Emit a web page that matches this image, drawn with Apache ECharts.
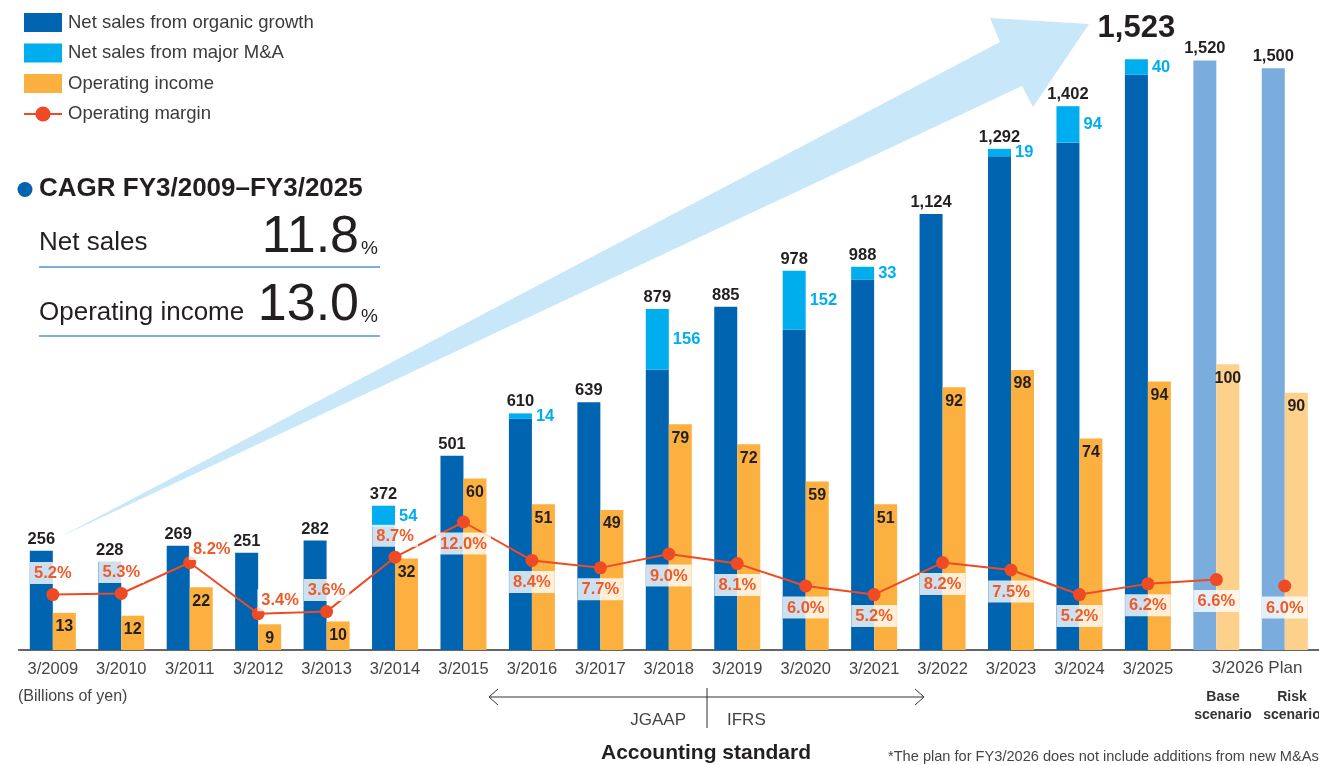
<!DOCTYPE html>
<html>
<head>
<meta charset="utf-8">
<script src="https://cdn.jsdelivr.net/npm/echarts@6/dist/echarts.min.js"></script>
<style>
html,body{margin:0;padding:0;background:#fff;}
#chart{width:1319px;height:765px;}
</style>
</head>
<body>
<div id="chart"></div>
<script>
// ---- data ----
const categories = ['3/2009','3/2010','3/2011','3/2012','3/2013','3/2014','3/2015','3/2016','3/2017','3/2018','3/2019','3/2020','3/2021','3/2022','3/2023','3/2024','3/2025','Base scenario','Risk scenario'];
const netSalesTotal = [256,228,269,251,282,372,501,610,639,879,885,978,988,1124,1292,1402,1523,1520,1500];
const netSalesMA = [0,0,0,0,0,54,0,14,0,156,0,152,33,0,19,94,40,0,0];
const operatingIncome = [13,12,22,9,10,32,60,51,49,79,72,59,51,92,98,74,94,100,90];
const operatingMargin = [5.2,5.3,8.2,3.4,3.6,8.7,12.0,8.4,7.7,9.0,8.1,6.0,5.2,8.2,7.5,5.2,6.2,6.6,6.0];
const planStart = 17;

// ---- styling ----
const FONT = "'Liberation Sans', Arial, Helvetica, sans-serif";
const C_ORG = '#0064b1', C_MA = '#00aeef', C_OI = '#fbb040', C_LINE = '#ee4b24';
const C_ORG_PLAN = '#7aaddd', C_OI_PLAN = '#fdd08c';
const marginPlacement = ['top','top','tr','tr','top','top','bottom','bottom','bottom','bottom','bottom','bottom','bottom','bottom','bottom','bottom','bottom','bottom','bottom'];

const fmt = v => v.toLocaleString('en-US');
const organic = netSalesTotal.map((t,i) => t - netSalesMA[i]);

const chart = echarts.init(document.getElementById('chart'), null, {renderer:'canvas'});

const organicData = organic.map((v,i) => i >= planStart ? {value:v, itemStyle:{color:C_ORG_PLAN}} : v);
const oiData = operatingIncome.map((v,i) => i >= planStart ? {value:v, itemStyle:{color:C_OI_PLAN}} : v);
const totalData = netSalesTotal.map((t,i) => {
  const d = {value:0};
  if (i === 16) d.label = {fontSize:31, distance:15};
  return d;
});
function marginLabel(i){
  const p = marginPlacement[i];
  if (p === 'tr') return {position:'top', offset:[22,8]};
  return {position:p};
}
const lineData = operatingMargin.map((v,i) => i < 18 ? {value:v, label:marginLabel(i)} : null);
const riskData = operatingMargin.map((v,i) => i === 18 ? {value:v, label:marginLabel(i)} : null);

const pctLabel = {
  show:true, formatter: p => p.value == null ? '' : Number(p.value).toFixed(1) + '%',
  color:'#ef5a29', fontFamily:FONT, fontWeight:'bold', fontSize:16.5,
  backgroundColor:'rgba(255,255,255,0.8)', padding:[3,4,2,4], distance:4
};

const option = {
  animation:false,
  backgroundColor:'#fff',
  textStyle:{fontFamily:FONT},
  legend:{
    data:[
      {name:'Net sales from organic growth', icon:'rect'},
      {name:'Net sales from major M&A', icon:'rect'},
      {name:'Operating income', icon:'rect'},
      {name:'Operating margin'}
    ],
    orient:'vertical', left:18, top:8, itemWidth:38, itemHeight:19, itemGap:11.5,
    textStyle:{fontSize:18.5, color:'#3a3a3a', fontFamily:FONT, padding:[0,0,0,1]},
    selectedMode:false
  },
  grid:{left:18.6, width:1308, top:10, bottom:115, containLabel:false},
  xAxis:{
    type:'category', data:categories,
    axisLine:{lineStyle:{color:'#333', width:1.5}},
    axisTick:{show:false},
    axisLabel:{interval:0, margin:11, fontSize:16.5, color:'#444', fontFamily:FONT,
      formatter:(v,i) => i >= planStart ? '' : v}
  },
  yAxis:[
    {type:'value', min:0, max:1650, show:false},
    {type:'value', min:0, max:224, show:false},
    {type:'value', min:0, max:60, show:false}
  ],
  series:[
    {name:'Net sales from organic growth', type:'bar', stack:'sales', yAxisIndex:0,
     barWidth:23, barGap:'0%', itemStyle:{color:C_ORG}, data:organicData},
    {name:'Net sales from major M&A', type:'bar', stack:'sales', yAxisIndex:0,
     barWidth:23, barGap:'0%', itemStyle:{color:C_MA}, data:netSalesMA,
     label:{show:true, position:'right', distance:4, color:C_MA, fontWeight:'bold', fontSize:16.5, fontFamily:FONT,
       formatter:p => p.value > 0 ? String(p.value) : ''}},
    {name:'total', type:'bar', stack:'sales', yAxisIndex:0, barWidth:23, barGap:'0%',
     itemStyle:{color:'rgba(0,0,0,0)'}, silent:true, data:totalData,
     label:{show:true, position:'top', distance:3, color:'#231f20', fontWeight:'bold', fontSize:16.5, fontFamily:FONT,
       formatter:p => fmt(netSalesTotal[p.dataIndex])}},
    {name:'Operating income', type:'bar', yAxisIndex:1, barWidth:23, barGap:'0%',
     itemStyle:{color:C_OI}, data:oiData,
     label:{show:true, position:'insideTop', distance:6, color:'#231f20', fontWeight:'bold', fontSize:16, fontFamily:FONT}},
    {name:'Operating margin', type:'line', yAxisIndex:2, data:lineData, z:5,
     symbol:'circle', symbolSize:13, itemStyle:{color:C_LINE}, lineStyle:{color:C_LINE, width:2},
     label:pctLabel},
    {name:'Operating margin', type:'line', yAxisIndex:2, data:riskData, z:5,
     symbol:'circle', symbolSize:13, itemStyle:{color:C_LINE}, lineStyle:{color:C_LINE, width:2},
     label:pctLabel}
  ],
  graphic:[
    {type:'polygon', z:-10, shape:{points:[[60,537],[1000,42],[990,18],[1089,24],[1033,107],[1022,86]]},
     style:{fill:'#c8e7f8'}},
    {type:'circle', shape:{cx:25, cy:189.5, r:7.5}, style:{fill:C_ORG}},
    {type:'text', x:39, y:189, style:{text:'CAGR FY3/2009\u2013FY3/2025', font:"bold 26px " + FONT, fill:'#231f20', verticalAlign:'middle'}},
    {type:'text', x:39, y:243, style:{text:'Net sales', font:"26px " + FONT, fill:'#231f20', verticalAlign:'middle'}},
    {type:'text', x:359, y:238, style:{text:'11.8', font:"52px " + FONT, fill:'#231f20', align:'right', verticalAlign:'middle'}},
    {type:'text', x:361, y:248.5, style:{text:'%', font:"19px " + FONT, fill:'#231f20', align:'left', verticalAlign:'middle'}},
    {type:'line', shape:{x1:39, y1:267, x2:380, y2:267}, style:{stroke:'#4f94d0', lineWidth:1.5}},
    {type:'text', x:39, y:313, style:{text:'Operating income', font:"26px " + FONT, fill:'#231f20', verticalAlign:'middle'}},
    {type:'text', x:359, y:306, style:{text:'13.0', font:"52px " + FONT, fill:'#231f20', align:'right', verticalAlign:'middle'}},
    {type:'text', x:361, y:317, style:{text:'%', font:"19px " + FONT, fill:'#231f20', align:'left', verticalAlign:'middle'}},
    {type:'line', shape:{x1:39, y1:336, x2:380, y2:336}, style:{stroke:'#4f94d0', lineWidth:1.5}},
    {type:'text', x:18, y:697, style:{text:'(Billions of yen)', font:"16px " + FONT, fill:'#444', verticalAlign:'middle'}},
    {type:'text', x:1257, y:668, style:{text:'3/2026 Plan', font:"17px " + FONT, fill:'#444', align:'center', verticalAlign:'middle'}},
    {type:'text', x:1223, y:706, style:{text:'Base\nscenario', font:"bold 14px " + FONT, lineHeight:18, fill:'#333', align:'center', verticalAlign:'middle'}},
    {type:'text', x:1292, y:706, style:{text:'Risk\nscenario', font:"bold 14px " + FONT, lineHeight:18, fill:'#333', align:'center', verticalAlign:'middle'}},
    {type:'polyline', shape:{points:[[489,697],[924,697]]}, style:{stroke:'#333', lineWidth:1, fill:null}},
    {type:'polyline', shape:{points:[[498,689],[489,697],[498,705]]}, style:{stroke:'#333', lineWidth:1, fill:null}},
    {type:'polyline', shape:{points:[[915,689],[924,697],[915,705]]}, style:{stroke:'#333', lineWidth:1, fill:null}},
    {type:'line', shape:{x1:707, y1:688, x2:707, y2:728}, style:{stroke:'#333', lineWidth:1}},
    {type:'text', x:686, y:720, style:{text:'JGAAP', font:"17px " + FONT, fill:'#444', align:'right', verticalAlign:'middle'}},
    {type:'text', x:727, y:720, style:{text:'IFRS', font:"17px " + FONT, fill:'#444', align:'left', verticalAlign:'middle'}},
    {type:'text', x:706, y:753, style:{text:'Accounting standard', font:"bold 21px " + FONT, fill:'#231f20', align:'center', verticalAlign:'middle'}},
    {type:'text', x:888, y:757, style:{text:'*The plan for FY3/2026 does not include additions from new M&As', font:"14.6px " + FONT, fill:'#444', verticalAlign:'middle'}}
  ]
};
chart.setOption(option);
</script>
</body>
</html>
